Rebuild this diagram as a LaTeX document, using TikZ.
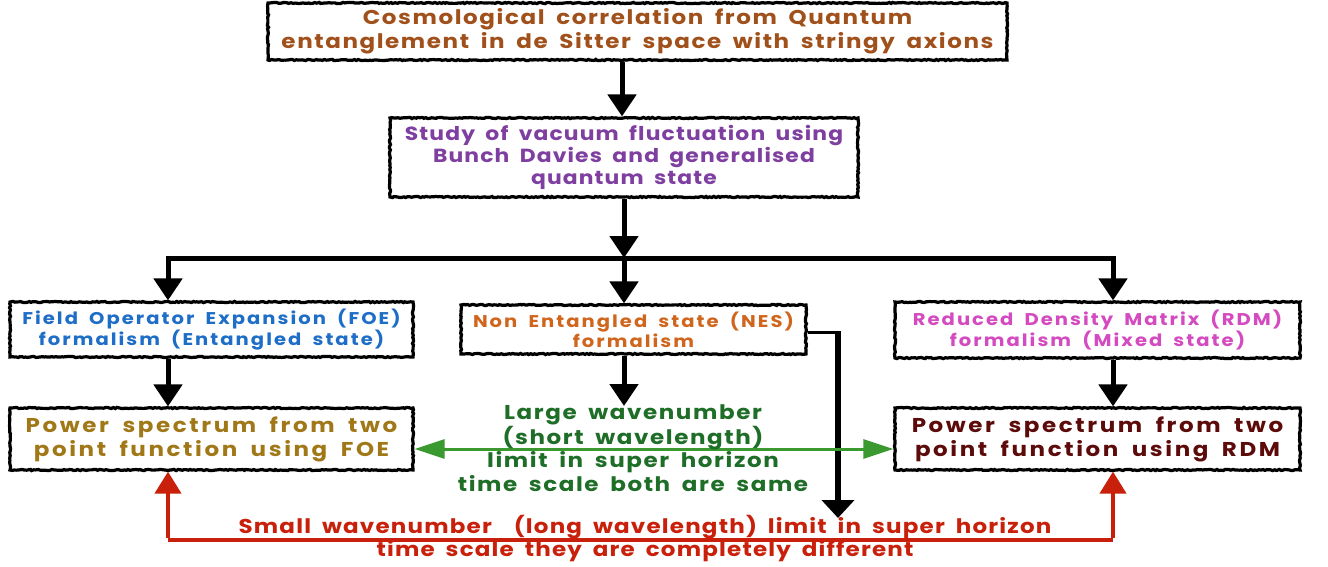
\documentclass[tikz,border=0pt]{standalone}
\usepackage{fontspec}
\setmainfont{Poppins}
\newfontfamily\cfontA[FakeStretch=1.15,LetterSpace=8,WordSpace=1.8]{Poppins}
\newfontfamily\cfontB[FakeStretch=1.15,LetterSpace=6,WordSpace=1.8]{Poppins}
\newfontfamily\cfontC[FakeStretch=1.15,LetterSpace=12,WordSpace=1.8]{Poppins}
\newfontfamily\cfontD[FakeStretch=1.15,LetterSpace=13,WordSpace=1.8]{Poppins}
\newfontfamily\cfontE[FakeStretch=1.15,LetterSpace=6,WordSpace=1.8]{Poppins}
\usetikzlibrary{arrows.meta,decorations.pathmorphing}
\definecolor{cBrown}{HTML}{A0501A}
\definecolor{cPurple}{HTML}{7E3FA0}
\definecolor{cBlue}{HTML}{1E6EC8}
\definecolor{cOrange}{HTML}{D0661E}
\definecolor{cMagenta}{HTML}{D44AC0}
\definecolor{cGold}{HTML}{A07818}
\definecolor{cMaroon}{HTML}{5C0A0A}
\definecolor{cGreenT}{HTML}{1E6E28}
\definecolor{cGreenA}{HTML}{3A9A30}
\definecolor{cRed}{HTML}{C8200A}
\begin{document}
\begin{tikzpicture}[x=1pt,y=-1pt,
  box/.style={draw=black, line width=3.2pt, fill=white, inner sep=0pt, align=center,
    decorate, decoration={random steps, segment length=2pt, amplitude=0.6pt}},
  blk/.style={line width=5pt, -{Triangle[width=28pt,length=22pt]}},
  redarr/.style={draw=cRed, line width=4pt, -{Triangle[width=26pt,length=22pt]}},
  grn/.style={draw=cGreenA, line width=3pt, {Triangle[width=19pt,length=30pt]}-{Triangle[width=19pt,length=30pt]}},
  fA/.style={font=\cfontA\bfseries\fontsize{20}{24}\selectfont},
  fG/.style={font=\cfontA\bfseries\fontsize{20}{23.5}\selectfont},
  fB/.style={font=\cfontB\bfseries\fontsize{19}{22}\selectfont},
  fC/.style={font=\cfontC\bfseries\fontsize{17}{20}\selectfont},
  fD/.style={font=\cfontD\bfseries\fontsize{20}{24}\selectfont},
  fE/.style={font=\cfontE\bfseries\fontsize{20}{23}\selectfont},
]
\useasboundingbox[fill=white] (0,0) rectangle (1328,567);

\node[box, minimum width=739pt, minimum height=57pt, text=cBrown, fA] (b1) at (637.5,31.5)
  {Cosmological correlation from Quantum\\entanglement in de Sitter space with stringy axions};
\node[box, minimum width=468pt, minimum height=79pt, text=cPurple, fB] (b2) at (624,157.5)
  {Study of vacuum fluctuation using\\Bunch Davies and generalised\\quantum state};
\node[box, minimum width=403pt, minimum height=55pt, text=cBlue, fC] (foe) at (211.5,329.5)
  {Field Operator Expansion (FOE)\\formalism (Entangled state)};
\node[box, minimum width=345pt, minimum height=49pt, text=cOrange, fC] (nes) at (633.5,329.5)
  {Non Entangled state (NES)\\formalism};
\node[box, minimum width=405pt, minimum height=56pt, text=cMagenta, fC] (rdm) at (1097.5,330)
  {Reduced Density Matrix (RDM)\\formalism (Mixed state)};
\node[box, minimum width=403pt, minimum height=62pt, text=cGold, fD] (psf) at (211.5,439)
  {Power spectrum from two\\point function using FOE};
\node[box, minimum width=405pt, minimum height=62pt, text=cMaroon, fD] (psr) at (1097.5,439)
  {Power spectrum from two\\point function using RDM};

\coordinate (xa) at (622,0);
\coordinate (xm) at (624,0);
\coordinate (xl) at (168,0);
\coordinate (xr) at (1113,0);
\coordinate (jn) at (624,258);
\coordinate (jl) at (168,258);
\coordinate (jr) at (1113,258);
\coordinate (nest) at (624,406);
\coordinate (nesc) at (838,332);
\coordinate (nese) at (838,518);
\coordinate (rl) at (168,540);
\coordinate (rr) at (1113,540);

% main arrows
\draw[blk] (b1.south -| xa) -- (b2.north -| xa);
\draw[blk] (b2.south -| xm) -- (jn);
\draw[line width=5pt] (jl) -- (jr);
\draw[blk] ([yshift=2.5pt]jl) -- (foe.north -| xl);
\draw[blk] (jn) -- (nes.north -| xm);
\draw[blk] ([yshift=2.5pt]jr) -- (rdm.north -| xr);
\draw[blk] (foe.south -| xl) -- (psf.north -| xl);
\draw[blk] (nes.south -| xm) -- (nest);
\draw[blk] (rdm.south -| xr) -- (psr.north -| xr);

% NES side arrow
\draw[line width=3pt] (nes.east |- nesc) -- ([xshift=3pt]nesc);
\draw[line width=6pt, -{Triangle[width=32pt,length=18pt]}] ([yshift=-1.5pt]nesc) -- (nese);

% green double arrow
\draw[grn] (psf.east |- 0,449) -- (psr.west |- 0,449);
\node[text=cGreenT, fG, align=center] (gtxt) at (633,448)
  {Large wavenumber\\(short wavelength)\\limit in super horizon\\time scale both are same};

% red connector
\draw[draw=cRed, line width=4pt] (rl) -- (rr);
\draw[redarr] ([yshift=2pt]rl) -- (psf.south -| xl);
\draw[redarr] ([yshift=2pt]rr) -- (psr.south -| xr);
\node[text=cRed, fE, align=center] (rtxt) at (645,538.5)
  {Small wavenumber\ \ (long wavelength) limit in super horizon\\time scale they are completely different};
\end{tikzpicture}
\end{document}
